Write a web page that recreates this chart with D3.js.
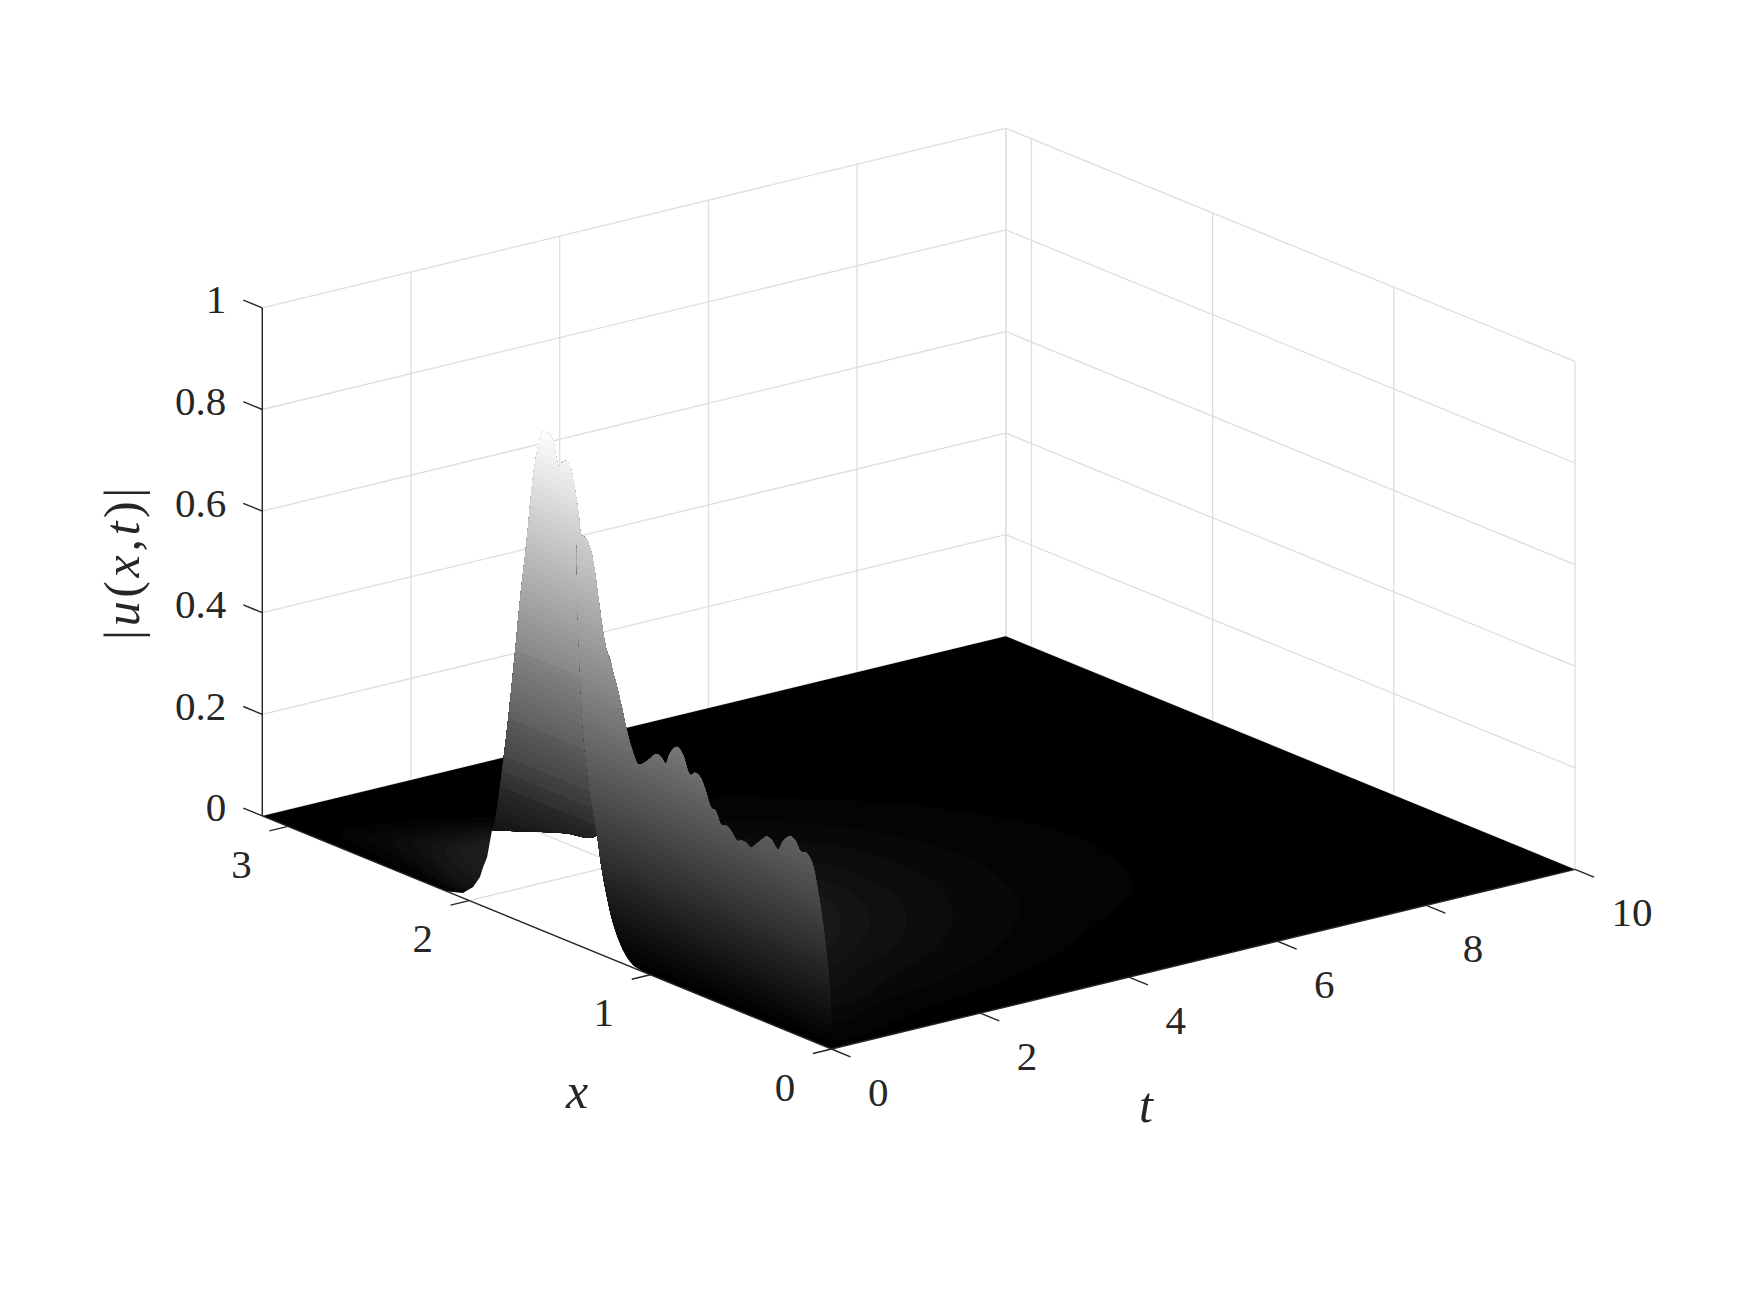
<!DOCTYPE html>
<html>
<head>
<meta charset="utf-8">
<script src="https://cdn.jsdelivr.net/npm/d3@7"></script>
<style>
html,body{margin:0;padding:0;background:#fff;}
svg{display:block;}
text{font-family:"Liberation Serif","Times New Roman",serif;fill:#262626;}
</style>
</head>
<body>
<svg id="chart" width="1750" height="1313"></svg>
<script>
// ---- axis ticks
const xLim = [0, Math.PI], tLim = [0, 10], zLim = [0, 1];
const xTicks = [0, 1, 2, 3];
const tTicks = [0, 2, 4, 6, 8, 10];
const zTicks = [0, 0.2, 0.4, 0.6, 0.8, 1];
const zTickLabels = ["0", "0.2", "0.4", "0.6", "0.8", "1"];

// ---- crest of the surface seen from the front, |u| against x
const crestX = [1.874,1.857,1.811,1.785,1.747,1.719,1.682,1.655,1.636,1.613,1.594,1.563,1.535,1.520,1.504,1.489,1.471,1.443,1.416,1.397,1.379,1.357,1.329,1.305,1.278,1.246,1.213,1.167,1.130,1.103,1.066,1.047,1.011,0.969,0.943,0.915,0.891,0.854,0.823,0.790,0.777,0.753,0.726,0.698,0.661,0.643,0.606,0.578,0.551,0.520,0.496,0.468,0.446,0.422,0.385,0.358,0.330,0.294,0.266,0.229,0.201,0.168,0.141,0.119,0.100,0.075,0.047,0.019,0,0];
const crestZ = [0.157,0.180,0.304,0.387,0.524,0.633,0.756,0.859,0.915,0.960,0.982,0.985,0.971,0.944,0.927,0.936,0.943,0.935,0.894,0.851,0.810,0.808,0.788,0.746,0.678,0.610,0.575,0.517,0.463,0.431,0.405,0.408,0.421,0.439,0.438,0.429,0.452,0.470,0.462,0.430,0.426,0.434,0.430,0.411,0.377,0.377,0.352,0.355,0.347,0.334,0.338,0.337,0.331,0.340,0.356,0.366,0.363,0.350,0.371,0.386,0.382,0.364,0.366,0.359,0.344,0.302,0.241,0.159,0.077,0];

// ---- boundary of the front wall, going up from the x axis
const frontEdgeX = [1.013,1.095,1.151,1.206,1.239,1.267,1.294,1.316,1.344,1.371,1.393,1.405];
const frontEdgeZ = [0,0.005,0.027,0.072,0.118,0.167,0.232,0.272,0.333,0.428,0.582,0.738];

// ---- lower rim of the hanging part of the peak
const hangX = [1.294,1.471,1.647,1.774,1.874];
const hangZ = [0.232,0.210,0.187,0.170,0.157];

// ---- rim of the rear low patch, coming down to the x axis
const patchEdgeX = [1.874,1.901,1.923,1.940,1.978,2.034,2.122];
const patchEdgeZ = [0.157,0.100,0.077,0.055,0.030,0.010,0];

// ---- how the hanging part's grey relates to its apparent height
const hangShadeZ = [0, 0.16, 0.23, 0.33, 0.6, 1];
const hangShadeV = [0, 0.08, 0.145, 0.30, 0.6, 1];

// ---- low level contours on the floor, one x list and one t list each
const contourLevels = [1, 2, 3, 4, 5, 6, 7];
const contour1X = [2.397,2.157,1.901,1.569,1.365,1.168,0.946,0.756,0.602,0.440,0.313,0.196,0.138,0.073,2.135,2.433,2.663,2.837,2.838,2.763,2.672];
const contour1T = [4.073,5.008,5.730,6.266,6.441,6.419,6.226,5.898,5.252,4.416,3.662,2.475,1.433,0.199,0.032,0.084,0.189,0.304,0.748,1.334,1.879];
const contour2X = [1.987,1.841,1.605,1.273,0.950,0.792,0.526,0.374,0.291,0.217,2.177,2.518,2.748,2.730,2.629];
const contour2T = [4.377,4.696,5.007,5.098,4.758,4.466,3.507,2.464,1.360,0.550,0.135,0.290,0.450,1.025,1.775];
const contour3X = [1.784,1.672,1.443,1.151,0.870,0.649,0.510,0.353,2.115,2.370,2.653,2.661,2.581];
const contour3T = [4.100,4.283,4.396,4.265,3.755,2.999,2.124,0.881,0.117,0.283,0.566,1.086,1.697];
const contour4X = [1.601,1.394,1.154,0.938,0.739,0.631,0.503,2.094,2.294,2.603,2.601,2.560];
const contour4T = [3.745,3.819,3.694,3.304,2.627,1.960,1.206,0.202,0.324,0.716,1.168,1.673];
const contour5X = [1.450,1.205,0.998,0.841,0.698,2.124,2.233,2.534,2.556,2.526];
const contour5T = [3.419,3.319,2.950,2.431,1.681,0.355,0.351,0.776,1.191,1.590];
const contour6X = [1.266,1.051,0.868,2.159,2.247,2.478,2.512,2.490];
const contour6T = [3.065,2.675,2.094,0.492,0.519,0.841,1.260,1.515];
const contour7X = [1.3,2.212,2.251,2.448,2.472,2.471];
const contour7T = [2.5,0.662,0.665,0.968,1.257,1.429];
const contourX = [contour1X,contour2X,contour3X,contour4X,contour5X,contour6X,contour7X];
const contourT = [contour1T,contour2T,contour3T,contour4T,contour5T,contour6T,contour7T];

// ---- oblique view built from three linear scales
const origin = {x: 831.5, y: 1049};
const xToPx = d3.scaleLinear().domain(xLim).range([0, -569.2]);
const xToPy = d3.scaleLinear().domain(xLim).range([0, -233.1]);
const tToPx = d3.scaleLinear().domain(tLim).range([0, 743.5]);
const tToPy = d3.scaleLinear().domain(tLim).range([0, -179.6]);
const zToPy = d3.scaleLinear().domain(zLim).range([0, -508]);
const P = (x, t, z) => [origin.x + xToPx(x) + tToPx(t), origin.y + xToPy(x) + tToPy(t) + zToPy(z)];

const svg = d3.select("#chart");
const defs = svg.append("defs");
const lin = d3.line();
const smooth = d3.line().curve(d3.curveCatmullRom.alpha(0.5));
const smoothClosed = d3.line().curve(d3.curveCatmullRomClosed.alpha(0.5));
const INK = "#262626", GRID = "#dedede";

// 64-entry grey colormap
const nLevels = 64;
const greys = d3.range(nLevels).map(k => d3.rgb(k / (nLevels - 1) * 255, k / (nLevels - 1) * 255, k / (nLevels - 1) * 255).formatHex());
const grey = d3.scaleQuantize().domain(zLim).range(greys);

// ---- walls
const gGrid = svg.append("g").attr("fill", "none").attr("stroke", GRID).attr("stroke-width", 1.3);
const seg = (g, a, b) => g.append("path").attr("d", lin([a, b]));
const xMax = xLim[1], tMax = tLim[1];
zTicks.forEach(z => {
  seg(gGrid, P(xMax, 0, z), P(xMax, tMax, z));
  seg(gGrid, P(xMax, tMax, z), P(0, tMax, z));
});
tTicks.forEach(t => seg(gGrid, P(xMax, t, 0), P(xMax, t, 1)));
xTicks.concat([xMax]).forEach(x => seg(gGrid, P(x, tMax, 0), P(x, tMax, 1)));

// ---- black floor
const floorPts = [P(0,0,0), P(0,tMax,0), P(xMax,tMax,0), P(xMax,0,0)];
svg.append("path").attr("d", lin(floorPts) + "Z").attr("fill", "#000");
defs.append("clipPath").attr("id", "floorClip").append("path").attr("d", lin(floorPts) + "Z");

// ---- floor contours
const gCont = svg.append("g").attr("clip-path", "url(#floorClip)");
contourLevels.forEach((lv, i) => {
  const pts = contourX[i].map((x, j) => P(x, contourT[i][j], 0));
  gCont.append("path").attr("d", smoothClosed(pts)).attr("fill", greys[lv]);
});

// ---- open gap under the surface, floor grid shows through
const holePts = frontEdgeX.slice(0, 7).map((x, i) => P(x, 0, frontEdgeZ[i]))
  .concat(hangX.map((x, i) => P(x, 0, hangZ[i])))
  .concat(patchEdgeX.map((x, i) => P(x, 0, patchEdgeZ[i])));
svg.append("path").attr("d", lin(holePts) + "Z").attr("fill", "#fff");
defs.append("clipPath").attr("id", "holeClip").append("path").attr("d", lin(holePts) + "Z");
const gFloorGrid = svg.append("g").attr("clip-path", "url(#holeClip)")
  .attr("fill", "none").attr("stroke", GRID).attr("stroke-width", 1.3);
xTicks.forEach(x => seg(gFloorGrid, P(x, 0, 0), P(x, tMax, 0)));
tTicks.forEach(t => seg(gFloorGrid, P(0, t, 0), P(xMax, t, 0)));

// ---- surface walls painted as colour bands in the t = 0 plane
function bands(id, outlineX, outlineZ, shade) {
  const outline = outlineX.map((x, i) => P(x, 0, outlineZ[i]));
  defs.append("clipPath").attr("id", id).append("path").attr("d", smooth(outline) + "Z");
  const g = svg.append("g").attr("clip-path", `url(#${id})`);
  d3.range(nLevels).forEach(k => {
    const z0 = k / nLevels;
    g.append("path")
      .attr("d", lin([P(-0.2, 0, z0), P(3.3, 0, z0), P(3.3, 0, 1.1), P(-0.2, 0, 1.1)]) + "Z")
      .attr("fill", grey(shade((k + 0.5) / nLevels)));
  });
}
const hangShade = d3.scaleLinear().domain(hangShadeZ).range(hangShadeV).clamp(true);
// rear, peak part
const mainEnd = crestX.findIndex(x => x < 1.2);
const mainX = crestX.slice(0, mainEnd).concat(hangX);
const mainZ = crestZ.slice(0, mainEnd).concat(hangZ);
bands("mainWall", mainX, mainZ, hangShade);
// front part
const frontStart = crestX.findIndex(x => x < 1.40);
const frontX = frontEdgeX.concat(crestX.slice(frontStart));
const frontZ = frontEdgeZ.concat(crestZ.slice(frontStart));
bands("frontWall", frontX, frontZ, z => z);

// ---- axes
const gAxis = svg.append("g").attr("fill", "none").attr("stroke", INK).attr("stroke-width", 1.4);
seg(gAxis, P(xMax, 0, 0), P(0, 0, 0));
seg(gAxis, P(0, 0, 0), P(0, tMax, 0));
seg(gAxis, P(xMax, 0, 0), P(xMax, 0, 1));
const xTickLen = 0.25, tTickLen = 0.105;
xTicks.forEach(x => seg(gAxis, P(x, 0, 0), P(x, -xTickLen, 0)));
tTicks.forEach(t => seg(gAxis, P(0, t, 0), P(-tTickLen, t, 0)));
zTicks.forEach(z => seg(gAxis, P(xMax, 0, z), P(xMax + tTickLen, 0, z)));

// ---- tick labels
const tickFont = 41;
const gText = svg.append("g").attr("font-size", tickFont);
zTicks.forEach((z, i) => {
  const [px, py] = P(xMax, 0, z);
  gText.append("text").attr("x", px - 36).attr("y", py + 5.5).attr("text-anchor", "end").text(zTickLabels[i]);
});
xTicks.forEach(x => {
  const [px, py] = P(x, 0, 0);
  gText.append("text").attr("x", px - 46.5).attr("y", py + 51.5).attr("text-anchor", "middle").text(String(x));
});
tTicks.forEach(t => {
  const [px, py] = P(0, t, 0);
  gText.append("text").attr("x", px + 36.5).attr("y", py + 56.5).attr("text-anchor", "start").text(String(t));
});

// ---- axis titles
const lab = (sel, parts) => parts.forEach(([s, it]) =>
  sel.append("tspan").attr("font-style", it ? "italic" : "normal").text(s));
const zLab = svg.append("text").attr("transform", "translate(139,562) rotate(-90)")
  .attr("text-anchor", "middle").attr("font-size", 50).attr("letter-spacing", 3.6);
lab(zLab, [["|",0],["u",1],["(",0],["x",1],[",",0],["t",1],[")",0],["|",0]]);
svg.append("text").attr("x", 577).attr("y", 1108).attr("text-anchor", "middle").attr("font-size", 50).attr("font-style", "italic").text("x");
svg.append("text").attr("x", 1146).attr("y", 1122).attr("text-anchor", "middle").attr("font-size", 50).attr("font-style", "italic").text("t");
</script>
</body>
</html>
